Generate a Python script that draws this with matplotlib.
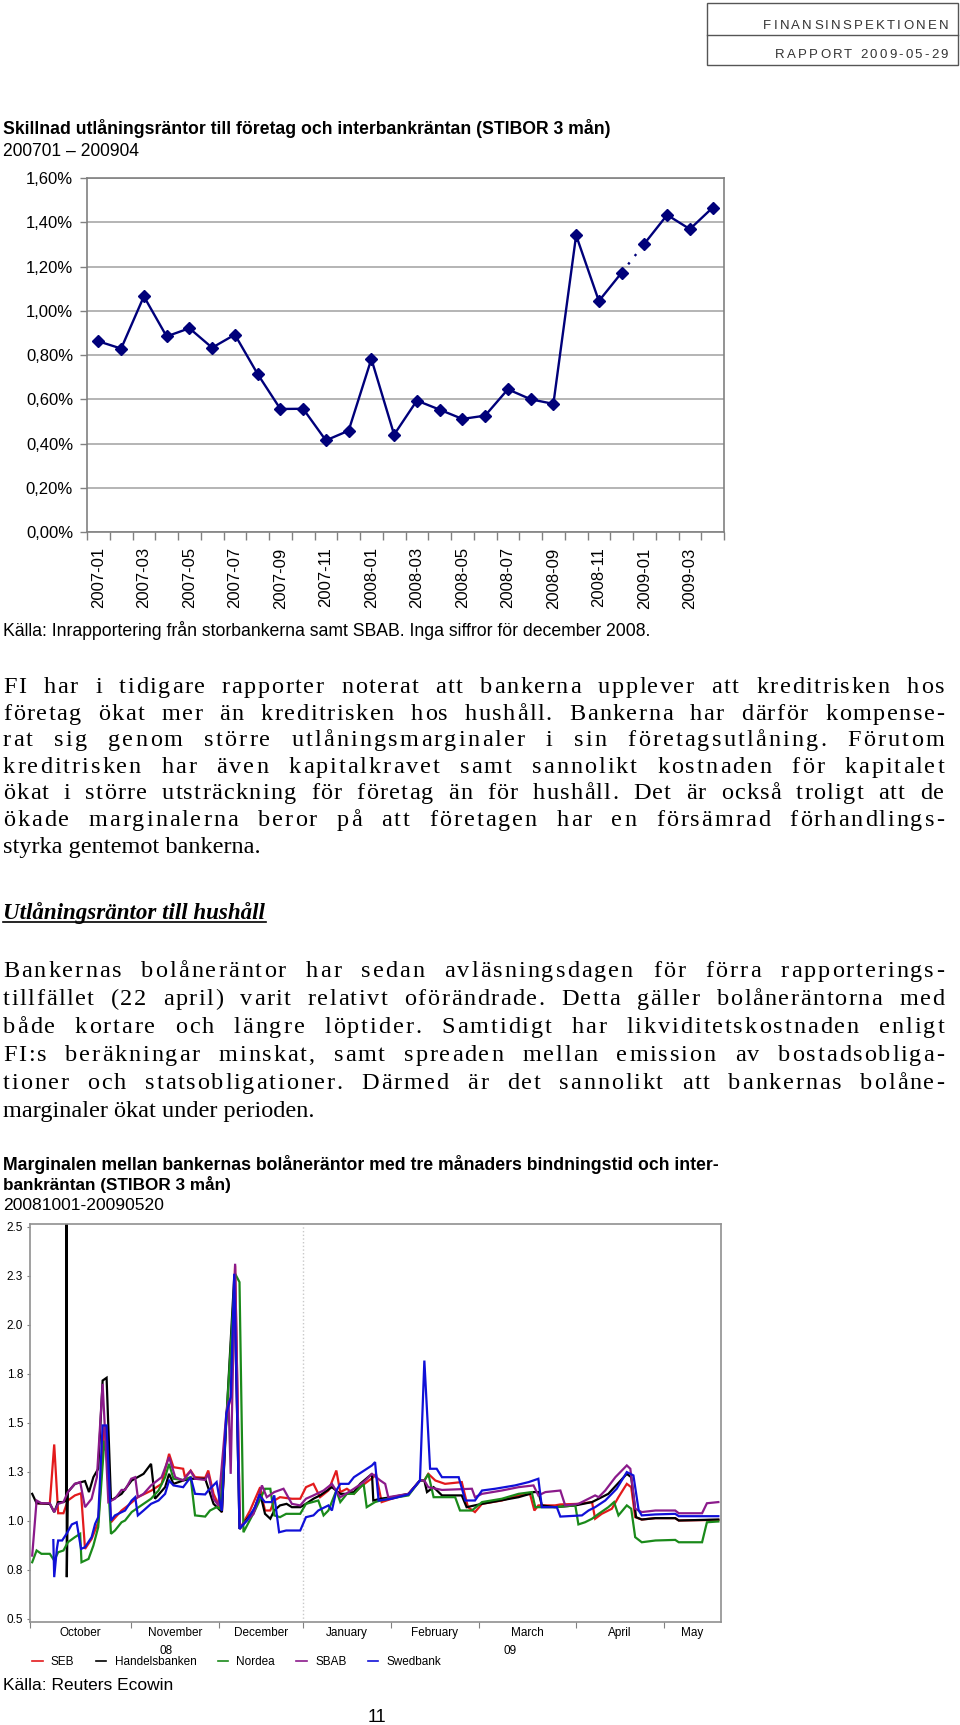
import matplotlib
matplotlib.use('Agg')
import matplotlib.pyplot as plt
from matplotlib import font_manager
from matplotlib.font_manager import FontProperties
from matplotlib.ft2font import FT2Font
from matplotlib.lines import Line2D
from matplotlib.patches import Rectangle
import numpy as np
try:
    from matplotlib.ft2font import LoadFlags
    NOHINT = LoadFlags.NO_HINTING
except ImportError:
    from matplotlib.ft2font import LOAD_NO_HINTING as NOHINT

# ---------------- data: chart 1 ----------------
months = ['2007-01', '2007-02', '2007-03', '2007-04', '2007-05', '2007-06', '2007-07',
          '2007-08', '2007-09', '2007-10', '2007-11', '2007-12', '2008-01', '2008-02',
          '2008-03', '2008-04', '2008-05', '2008-06', '2008-07', '2008-08', '2008-09',
          '2008-10', '2008-11', '2008-12', '2009-01', '2009-02', '2009-03', '2009-04']
spread = [0.862, 0.829, 1.065, 0.884, 0.921, 0.833, 0.892, 0.714, 0.556, 0.557,
          0.414, 0.458, 0.782, 0.440, 0.594, 0.553, 0.511, 0.526, 0.645, 0.600,
          0.579, 1.341, 1.044, 1.172, 1.303, 1.433, 1.369, 1.466]
y1_ticks = [0.0, 0.2, 0.4, 0.6, 0.8, 1.0, 1.2, 1.4, 1.6]

# ---------------- data: chart 2 (x = business day since 2008-10-01) ----------------
month_names = ['October', 'November', 'December', 'January', 'February', 'March', 'April', 'May']
month_start_days = [0, 23, 43, 62, 82, 102, 124, 144, 157]
y2_ticks = [0.5, 0.75, 1.0, 1.25, 1.5, 1.75, 2.0, 2.25, 2.5]
y2_labels = ['0.5', '0.8', '1.0', '1.3', '1.5', '1.8', '2.0', '2.3', '2.5']

seb = [(1.5,1.088),(4.5,1.085),(5.5,1.388),(6.4,1.037),(7.6,1.037),(8.6,1.102),(10.2,1.128),
       (11.6,1.139),(12.5,0.855),(14.0,0.906),(15.5,0.991),(16.9,1.476),(17.4,1.476),(18.4,0.991),
       (20.8,1.051),(22.3,1.077),(24.5,1.119),(27.6,1.153),(29.9,1.187),(31.6,1.340),(32.6,1.272),
       (34.8,1.264),(35.2,1.221),(36.5,1.255),(37.5,1.221),(39.8,1.218),(40.5,1.255),(41.7,1.136),
       (42.4,1.102),(43.6,1.043),(44.6,1.527),(45.6,1.629),(46.6,2.301),(47.7,0.957),(50.0,1.051),
       (52.3,1.170),(52.7,1.119),(53.4,1.051),(54.6,1.051),(55.5,1.102),(56.8,1.119),(59.5,1.111),
       (61.4,1.111),(62.7,1.170),(64.4,1.187),(65.9,1.119),(67.8,1.153),(69.6,1.255),(70.5,1.145),
       (72.0,1.162),(73.6,1.136),(75.0,1.170),(78.0,1.221),(78.6,1.238),(79.9,1.094),(82.2,1.111),
       (86.0,1.136),(88.6,1.204),(89.6,1.204),(90.5,1.238),(92.1,1.204),(94.3,1.187),(98.1,1.196),
       (99.5,1.068),(101.1,1.043),(102.7,1.085),(107.2,1.102),(111.0,1.128),(113.6,1.136),
       (114.6,1.051),(115.5,1.077),(119.3,1.077),(120.5,1.082),(124.6,1.085),(127.7,1.094),
       (128.4,1.009),(129.9,1.034),(132.2,1.060),(133.7,1.119),(135.6,1.187),(136.6,1.170),
       (137.5,1.017),(139.0,1.005),(142.1,1.012),(146.6,1.012),(147.4,1.000),(156.4,1.003)]

handelsbanken = [(0.5,1.136),(1.5,1.088),(4.5,1.085),(5.5,1.043),(6.4,1.094),(7.6,1.094),(8.2,1.102),
       (8.3,3.0),(8.36,0.711),(8.6,1.145),(10.2,1.187),(12.5,1.201),(13.4,1.145),(14.4,1.221),
       (15.5,1.264),(16.5,1.714),(17.4,1.728),(18.4,1.102),(20.8,1.136),(23.1,1.204),(25.8,1.238),
       (27.5,1.289),(28.4,1.111),(30.7,1.170),(31.6,1.238),(32.6,1.187),(34.8,1.204),(36.5,1.213),
       (39.8,1.213),(41.7,1.085),(43.6,1.043),(44.6,1.510),(46.4,2.241),(47.6,0.957),(50.8,1.051),
       (52.3,1.136),(53.4,1.034),(54.6,1.009),(55.5,1.051),(56.8,1.077),(58.3,1.085),(59.5,1.068),
       (61.4,1.068),(62.7,1.085),(64.4,1.111),(65.9,1.128),(68.6,1.170),(70.5,1.136),(72.0,1.136),
       (73.6,1.145),(75.0,1.187),(77.7,1.238),(78.0,1.102),(79.6,1.111),(82.2,1.119),(86.0,1.136),
       (88.6,1.204),(89.6,1.204),(90.2,1.145),(91.7,1.170),(93.6,1.128),(98.1,1.128),(99.2,1.068),
       (102.7,1.085),(111.0,1.119),(113.6,1.136),(114.4,1.145),(115.5,1.145),(116.3,1.077),
       (119.3,1.068),(123.9,1.077),(127.7,1.094),(131.4,1.136),(135.6,1.238),(136.6,1.221),
       (137.7,1.017),(139.0,1.005),(142.1,1.012),(146.6,1.012),(147.4,1.000),(156.4,1.005)]

nordea = [(0.5,0.787),(1.5,0.847),(2.6,0.830),(4.5,0.830),(5.5,0.796),(6.4,0.838),(7.6,0.847),
       (8.6,0.889),(10.2,0.915),(11.4,0.932),(11.7,0.787),(13.3,0.804),(14.4,0.872),(15.5,0.966),
       (16.9,1.408),(17.4,1.340),(18.4,0.932),(19.3,0.949),(20.8,0.991),(21.6,1.000),(23.1,1.043),
       (24.5,1.065),(25.8,1.085),(27.5,1.111),(29.2,1.153),(30.7,1.221),(31.6,1.289),(32.6,1.213),
       (34.8,1.207),(36.5,1.221),(37.5,1.026),(39.8,1.020),(40.9,1.051),(42.4,1.068),(43.2,1.060),
       (44.6,1.510),(46.6,2.259),(47.6,2.216),(48.5,0.940),(51.1,1.051),(53.4,1.162),(54.6,1.162),
       (55.5,1.026),(56.8,1.017),(58.2,1.034),(61.4,1.034),(62.7,1.085),(65.5,1.102),(66.7,1.026),
       (67.8,1.051),(69.6,1.153),(70.5,1.094),(72.0,1.136),(73.6,1.136),(75.8,1.187),(76.5,1.068),
       (78.4,1.094),(79.6,1.102),(81.4,1.111),(86.0,1.128),(88.6,1.204),(89.6,1.204),(90.5,1.238),
       (91.7,1.119),(96.6,1.119),(97.7,1.051),(100.4,1.051),(102.7,1.094),(107.2,1.111),
       (111.0,1.136),(114.0,1.145),(114.8,1.068),(119.3,1.068),(123.9,1.077),(124.6,0.980),
       (126.1,0.991),(127.7,1.009),(129.2,1.034),(131.4,1.068),(132.7,1.094),(133.7,1.026),
       (135.6,1.077),(136.6,1.060),(137.5,0.915),(139.0,0.889),(142.1,0.898),(146.6,0.901),
       (147.4,0.889),(152.7,0.889),(153.8,0.991),(156.4,0.995)]

sbab = [(0.5,0.821),(1.5,1.102),(2.6,1.088),(4.5,1.088),(5.5,1.043),(6.4,1.085),(7.6,1.094),
       (8.6,1.145),(10.2,1.187),(11.4,1.196),(12.5,1.068),(14.0,1.111),(15.2,1.221),(16.5,1.697),
       (17.0,1.476),(17.8,1.094),(19.3,1.111),(20.8,1.156),(21.6,1.156),(23.0,1.213),(23.9,1.221),
       (24.5,1.119),(25.8,1.136),(27.5,1.179),(29.9,1.221),(31.6,1.323),(33.0,1.221),(34.8,1.204),
       (36.5,1.252),(37.5,1.213),(39.8,1.207),(40.5,1.238),(41.7,1.111),(42.8,1.077),(44.6,1.544),
       (45.1,1.612),(45.6,1.238),(46.6,2.310),(47.7,0.966),(50.8,1.034),(52.7,1.179),(53.8,1.119),
       (55.5,1.145),(57.6,1.162),(59.5,1.085),(61.4,1.077),(62.7,1.111),(64.4,1.128),(66.7,1.153),
       (68.6,1.187),(70.5,1.119),(72.4,1.145),(73.6,1.162),(75.8,1.196),(77.7,1.238),(79.6,1.204),
       (80.7,1.187),(81.4,1.119),(86.0,1.136),(88.6,1.204),(89.6,1.204),(90.5,1.170),(93.6,1.156),
       (100.4,1.162),(101.1,1.119),(102.7,1.136),(107.2,1.153),(111.0,1.170),(114.4,1.179),
       (115.5,1.128),(117.1,1.145),(120.5,1.153),(121.6,1.077),(124.6,1.085),(126.9,1.111),
       (128.4,1.128),(129.2,1.119),(130.7,1.153),(133.0,1.221),(135.6,1.281),(136.4,1.264),
       (137.5,1.060),(139.0,1.043),(142.1,1.051),(146.6,1.051),(147.4,1.037),(152.7,1.037),
       (153.8,1.088),(156.4,1.094)]

swedbank = [(5.3,0.900),(5.5,0.711),(6.1,0.855),(6.4,0.898),(7.3,0.898),(8.3,0.932),(9.5,0.980),
       (10.6,0.991),(11.6,0.855),(12.5,0.864),(14.0,0.915),(14.8,0.983),(15.5,1.017),(16.5,1.485),
       (17.4,1.485),(18.4,1.000),(19.3,1.026),(21.6,1.051),(23.1,1.102),(23.9,1.119),(24.5,1.026),
       (25.8,1.051),(27.5,1.085),(29.2,1.102),(30.7,1.136),(31.6,1.204),(32.6,1.179),(34.8,1.170),
       (36.5,1.221),(37.5,1.136),(39.8,1.133),(40.5,1.153),(42.4,1.196),(43.3,1.077),(43.6,1.051),
       (44.6,1.544),(45.6,1.629),(46.4,2.259),(47.6,0.957),(49.3,1.000),(51.1,1.068),(52.1,1.128),
       (53.4,1.094),(54.9,1.094),(55.5,1.128),(56.6,0.940),(58.2,0.949),(61.4,0.949),(62.7,1.017),
       (64.4,1.026),(65.5,1.051),(67.8,1.077),(68.6,1.051),(69.6,1.153),(70.5,1.187),(72.4,1.187),
       (73.6,1.221),(77.7,1.281),(78.4,1.298),(79.2,1.102),(82.2,1.111),(86.0,1.133),(88.6,1.204),
       (89.6,1.816),(90.9,1.264),(92.4,1.264),(93.6,1.221),(97.4,1.221),(98.9,1.102),(101.1,1.102),
       (102.7,1.153),(105.7,1.162),(110.2,1.179),(113.3,1.196),(115.5,1.213),(116.3,1.068),
       (119.7,1.068),(120.5,1.020),(125.4,1.026),(126.9,1.051),(128.4,1.068),(130.7,1.102),
       (133.3,1.162),(135.6,1.247),(137.1,1.230),(138.3,1.051),(139.0,1.026),(142.1,1.031),
       (146.6,1.034),(147.4,1.022),(156.4,1.022)]

bank_names = ['SEB', 'Handelsbanken', 'Nordea', 'SBAB', 'Swedbank']
bank_series = [seb, handelsbanken, nordea, sbab, swedbank]
bank_colors = ['#e31a1c', '#000000', '#1a8a1a', '#8b1a8b', '#1010d8']

# ---------------- texts ----------------
para1 = ["FI har i tidigare rapporter noterat att bankerna upplever att kreditrisken hos",
         "företag ökat mer än kreditrisken hos hushåll. Bankerna har därför kompense-",
         "rat sig genom större utlåningsmarginaler i sin företagsutlåning. Förutom",
         "kreditrisken har även kapitalkravet samt sannolikt kostnaden för kapitalet",
         "ökat i större utsträckning för företag än för hushåll. Det är också troligt att de",
         "ökade marginalerna beror på att företagen har en försämrad förhandlings-",
         "styrka gentemot bankerna."]
para2 = ["Bankernas bolåneräntor har sedan avläsningsdagen för förra rapporterings-",
         "tillfället (22 april) varit relativt oförändrade. Detta gäller bolåneräntorna med",
         "både kortare och längre löptider. Samtidigt har likviditetskostnaden enligt",
         "FI:s beräkningar minskat, samt spreaden mellan emission av bostadsobliga-",
         "tioner och statsobligationer. Därmed är det sannolikt att bankernas bolåne-",
         "marginaler ökat under perioden."]

# ---------------- figure ----------------
W, H = 960, 1725
fig = plt.figure(figsize=(W / 100, H / 100), dpi=100)
fig.patch.set_facecolor('white')
renderer = fig.canvas.get_renderer()

avail = {f.name for f in font_manager.fontManager.ttflist}
SANS = 'Liberation Sans' if 'Liberation Sans' in avail else 'DejaVu Sans'
NARROW = 'Liberation Sans Narrow' if 'Liberation Sans Narrow' in avail else SANS
SERIF = 'Liberation Serif' if 'Liberation Serif' in avail else 'DejaVu Serif'


def fx(x):
    return x / W


def fy(y):
    return 1 - y / H


def measure(s, fp):
    w, h, d = renderer.get_text_width_height_descent(s, fp, ismath=False)
    return w


_font_cache = {}


def advance(c, fp):
    key = (font_manager.findfont(fp), fp.get_size_in_points())
    if key not in _font_cache:
        f = FT2Font(key[0])
        f.set_size(key[1], 100)
        _font_cache[key] = f
    g = _font_cache[key].load_char(ord(c), flags=NOHINT)
    return g.linearHoriAdvance / 65536


def fit_text(x, y, s, width, family, weight='normal', ha='left', va='baseline', style='normal'):
    fp = FontProperties(family=family, weight=weight, style=style, size=10)
    w = measure(s, fp)
    size = 10 * width / w
    return fig.text(fx(x), fy(y), s, family=family, weight=weight, style=style,
                    fontsize=size, ha=ha, va=va)


def spaced_right(x_right, y, s, size, family, tracking):
    fp = FontProperties(family=family, size=size)
    adv = [advance(c, fp) for c in s]
    total = sum(adv) + tracking * (len(s) - 1)
    x = x_right - total
    for c, a in zip(s, adv):
        fig.text(fx(x), fy(y), c, fontproperties=fp, ha='left', va='baseline', color='#333333')
        x += a + tracking


SPACE_WEIGHT = 7.0


def justify(line, x0, x1, y, fp, last=False):
    if last:
        fig.text(fx(x0), fy(y), line, fontproperties=fp, ha='left', va='baseline')
        return
    adv = [advance(c, fp) for c in line]
    natural = sum(adv)
    n_space = line.count(' ')
    n_inner = sum(1 for a, b in zip(line[:-1], line[1:]) if a != ' ' and b != ' ')
    unit = (x1 - x0 - natural) / (n_inner + SPACE_WEIGHT * n_space)
    x = x0
    for i, c in enumerate(line):
        if c != ' ':
            fig.text(fx(x), fy(y), c, fontproperties=fp, ha='left', va='baseline')
        x += adv[i]
        if i + 1 < len(line):
            nxt = line[i + 1]
            if c == ' ':
                x += SPACE_WEIGHT * unit
            elif nxt != ' ':
                x += unit


# header box
fig.add_artist(Rectangle((fx(707), fy(65)), (958 - 707) / W, (65 - 3) / H,
                         transform=fig.transFigure, fill=False, ec='#555555', lw=1.0))
fig.add_artist(Line2D([fx(707), fx(958)], [fy(35), fy(35)], transform=fig.transFigure,
                      color='#555555', lw=1.0))
spaced_right(948, 29, 'FINANSINSPEKTIONEN', 9.5, SANS, 2.2)
spaced_right(948, 58, 'RAPPORT 2009-05-29', 9.5, SANS, 2.2)

# chart 1 titles
fit_text(3, 134, 'Skillnad utlåningsräntor till företag och interbankräntan (STIBOR 3 mån)',
         607, NARROW, weight='bold')
fit_text(3, 156, '200701 – 200904', 137, NARROW)

# ---------------- chart 1 ----------------
navy = '#00007a'
ax1 = fig.add_axes([fx(87), fy(532), 637 / W, 354 / H])
xi = np.arange(len(months))
ax1.plot(xi[:24], spread[:24], color=navy, lw=1.7, marker='D', ms=5.8, mfc=navy, mec=navy,
         zorder=3)
ax1.plot(xi[24:], spread[24:], color=navy, lw=1.7, marker='D', ms=5.8, mfc=navy, mec=navy,
         zorder=3)
ax1.plot(xi[23:25], spread[23:25], color=navy, lw=1.7, ls=(0, (1, 3.5)), zorder=2)
ax1.set_xlim(-0.5, len(months) - 0.5)
ax1.set_ylim(0, 1.6)
ax1.set_yticks(y1_ticks)
ax1.set_yticklabels([f'{v:.2f}%'.replace('.', ',') for v in y1_ticks], family=SANS,
                    fontsize=12)
ax1.yaxis.grid(True, color='#a8a8a8', lw=1.2)
ax1.set_axisbelow(True)
ax1.set_xticks(xi[::2])
ax1.set_xticklabels(months[::2], rotation=90, family=SANS, fontsize=12)
ax1.set_xticks(np.arange(-0.5, len(months)), minor=True)
ax1.tick_params(axis='x', which='major', length=0, pad=11)
ax1.tick_params(axis='x', which='minor', length=6, color='#808080', width=1)
ax1.tick_params(axis='y', length=5, color='#808080', width=1, pad=5)
for sp in ax1.spines.values():
    sp.set_color('#808080')
    sp.set_linewidth(1.2)

fit_text(3, 636, 'Källa: Inrapportering från storbankerna samt SBAB. Inga siffror för december 2008.',
         652, NARROW)

# ---------------- body text ----------------
body_fp = FontProperties(family=SERIF, size=17.5)
y = 693
for i, line in enumerate(para1):
    justify(line, 3, 944, y, body_fp, last=(i == len(para1) - 1))
    y += 26.6

fit_text(3, 919, 'Utlåningsräntor till hushåll', 263, SERIF, weight='bold', style='italic')
fig.add_artist(Line2D([fx(3), fx(266)], [fy(922), fy(922)], transform=fig.transFigure,
                      color='black', lw=1.2))

y = 977
for i, line in enumerate(para2):
    justify(line, 3, 944, y, body_fp, last=(i == len(para2) - 1))
    y += 27.9

# chart 2 titles
fit_text(3, 1170, 'Marginalen mellan bankernas bolåneräntor med tre månaders bindningstid och inter-',
         713, SANS, weight='bold')
fig.text(fx(3), fy(1190), 'bankräntan (STIBOR 3 mån)', family=SANS, weight='bold',
         fontsize=12.3, ha='left', va='baseline')
fit_text(3, 1210, '20081001-20090520', 162, SANS)

# ---------------- chart 2 ----------------
ax2 = fig.add_axes([fx(30), fy(1621.7), 691 / W, 397.7 / H])
for name, ser, col in zip(bank_names, bank_series, bank_colors):
    d = [p[0] for p in ser]
    v = [p[1] for p in ser]
    ax2.plot(d, v, color=col, lw=1.6, label=name, solid_joinstyle='miter')
ax2.set_xlim(month_start_days[0], month_start_days[-1])
ax2.set_ylim(0.5 - 3.2 / 196, 2.5 + 2.5 / 196)
ax2.set_yticks(y2_ticks)
ax2.set_yticklabels(y2_labels, family=SANS, fontsize=8.5)
ax2.tick_params(axis='y', length=2, color='#808080', pad=3)
ax2.set_xticks(month_start_days[:-1])
ax2.set_xticklabels([])
mids = [(a + b) / 2 for a, b in zip(month_start_days[:-1], month_start_days[1:])]
ax2.set_xticks(mids, minor=True)
ax2.set_xticklabels(month_names, minor=True, family=SANS, fontsize=8.5)
ax2.tick_params(axis='x', which='major', length=4, color='#808080')
ax2.tick_params(axis='x', which='minor', length=0, pad=4)
ax2.axvline(month_start_days[3], color='#c8c8c8', lw=1, ls=':', zorder=0)
for sp in ax2.spines.values():
    sp.set_color('#909090')
    sp.set_linewidth(1.2)

fig.text(fx(166), fy(1654), '08', family=SANS, fontsize=8.5, ha='center', va='baseline')
fig.text(fx(510), fy(1654), '09', family=SANS, fontsize=8.5, ha='center', va='baseline')

handles = [Line2D([], [], color=c, lw=1.2) for c in bank_colors]
fig.legend(handles, bank_names, loc='upper left', bbox_to_anchor=(fx(32), fy(1656)),
           bbox_transform=fig.transFigure, ncol=5, frameon=False, handlelength=0.9,
           handletextpad=0.7, columnspacing=1.8, borderpad=0, borderaxespad=0,
           prop=FontProperties(family=SANS, size=8.5))

fig.text(fx(3), fy(1690), 'Källa: Reuters Ecowin', family=SANS, fontsize=12.5, ha='left',
         va='baseline')
fig.text(fx(377), fy(1722), '11', family=SANS, fontsize=13, ha='center', va='baseline')

fig.savefig('out.png', dpi=100, facecolor='white')
